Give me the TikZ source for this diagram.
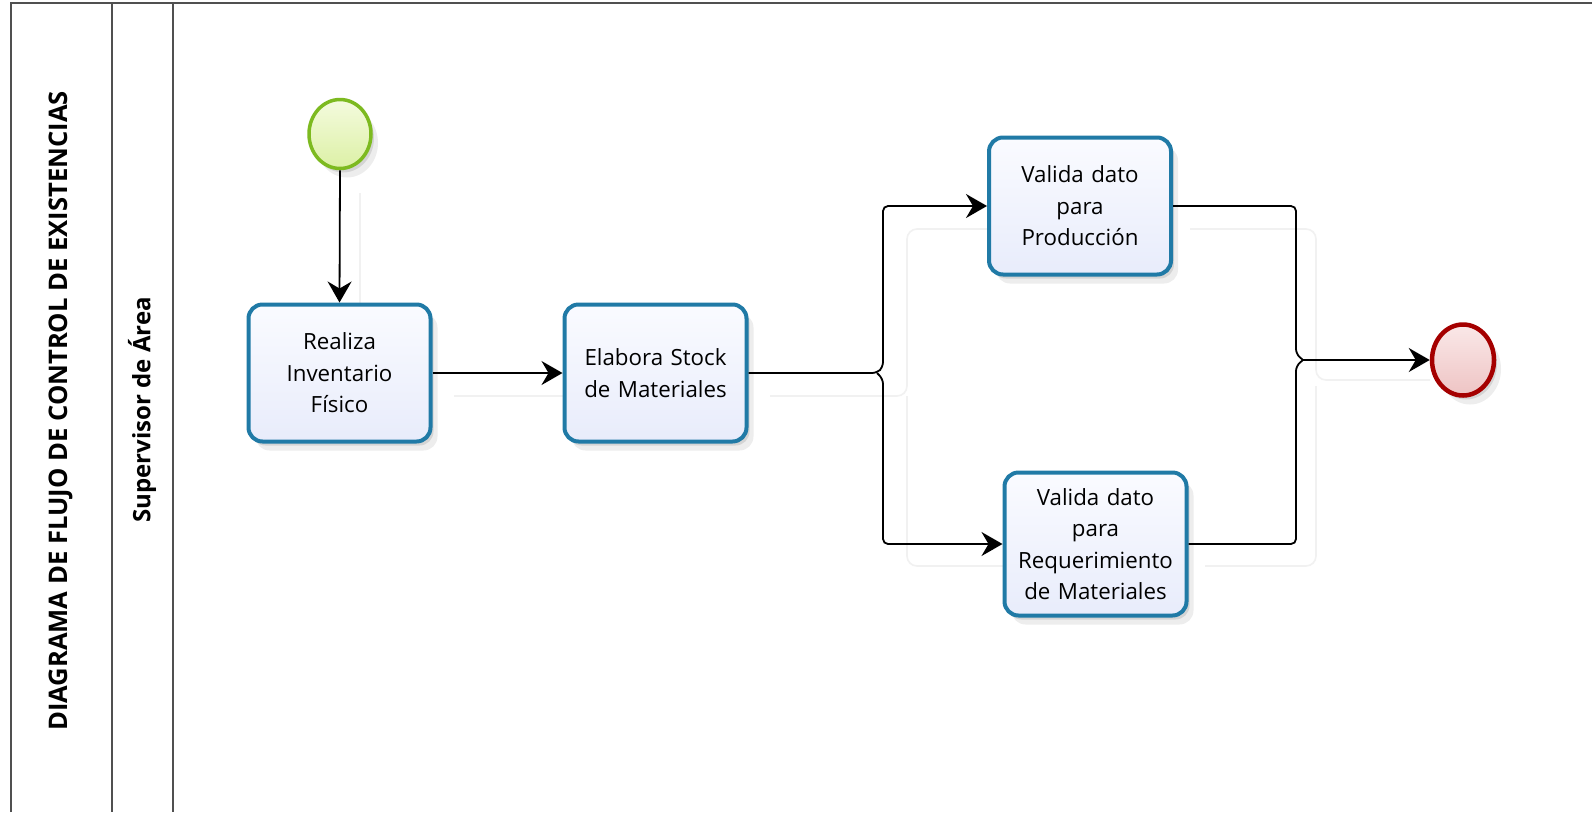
\documentclass[tikz,border=0pt]{standalone}
\usepackage{fontspec}
\setmainfont{Open Sans}
\usetikzlibrary{arrows.meta,shapes.geometric,shadows}

\definecolor{taskline}{RGB}{32,122,166}
\definecolor{taskfillA}{RGB}{250,251,255}
\definecolor{taskfillB}{RGB}{232,236,251}
\definecolor{startline}{RGB}{125,186,32}
\definecolor{startfillA}{RGB}{244,251,222}
\definecolor{startfillB}{RGB}{220,240,165}
\definecolor{endline}{RGB}{165,0,0}
\definecolor{endfillA}{RGB}{250,232,232}
\definecolor{endfillB}{RGB}{238,196,196}
\definecolor{framecol}{RGB}{80,80,80}
\definecolor{flowshade}{RGB}{241,241,241}

\begin{document}
\begin{tikzpicture}[x=1pt,y=-1pt,
  frame/.style={draw=framecol, line width=1.6pt},
  softshadow/.style={
    drop shadow={shadow xshift=3pt,shadow yshift=-4pt,opacity=0.10,fill=black},
    drop shadow={shadow xshift=7pt,shadow yshift=-9pt,opacity=0.07,fill=black}},
  task/.style={draw=taskline, line width=4pt, rounded corners=14pt,
    minimum width=182pt, minimum height=137pt, text width=178pt,
    align=center, inner sep=2pt, top color=taskfillA, bottom color=taskfillB,
    font=\fontsize{22.3}{31.5}\selectfont, text=black, softshadow},
  startev/.style={ellipse, draw=startline, line width=3.5pt, inner sep=0pt,
    minimum width=62pt, minimum height=69pt,
    top color=startfillA, bottom color=startfillB, softshadow},
  endev/.style={ellipse, draw=endline, line width=4.5pt, inner sep=0pt,
    minimum width=62pt, minimum height=71pt,
    top color=endfillA, bottom color=endfillB, softshadow},
  flow/.style={draw=black, line width=1.8pt, rounded corners=5pt},
  conn/.style={flow, -{Stealth[length=21pt,width=24pt,inset=7pt]}},
  flowshadow/.style={draw=flowshade, line width=1.6pt, rounded corners=10pt},
  lanelabel/.style={rotate=90, font=\bfseries, text=black}
]
\useasboundingbox (0,0) rectangle (1592,812);
\fill[white] (0,0) rectangle (1592,812);

% pool and lane borders
\draw[frame] (11,812) -- (11,3) -- (1592,3);
\draw[frame] (112,3) -- (112,812);
\draw[frame] (173,3) -- (173,812);

\node[lanelabel, font=\fontsize{25.6}{28}\selectfont\bfseries] (pool) at (61,411)
  {DIAGRAMA DE FLUJO DE CONTROL DE EXISTENCIAS};
\node[lanelabel, font=\fontsize{24}{26}\selectfont\bfseries] (lane) at (142,410)
  {Supervisor de Área};

% faint shadows of the sequence flows
\draw[flowshadow] (360,193) -- (360,303);
\draw[flowshadow] (454,396) -- (563,396);
\draw[flowshadow] (770,396) -- (907,396) -- (907,229) -- (1000,229);
\draw[flowshadow] (907,396) -- (907,566) -- (1010,566);
\draw[flowshadow] (1190,229) -- (1316,229) -- (1316,380) -- (1430,380);
\draw[flowshadow] (1205,566) -- (1316,566) -- (1316,386);

% events and tasks
\node[startev] (start) at (340,134) {};
\node[task] (t1) at (339.5,373) {Realiza\\Inventario\\Físico};
\node[task] (t2) at (655.5,373) {Elabora Stock\\de Materiales};
\node[task] (t3) at (1080,206) {Valida dato\\para\\Producción};
\node[task, minimum height=143pt] (t4) at (1095.5,544)
  {Valida dato\\para\\Requerimiento\\de Materiales};
\node[endev] (end) at (1463,360) {};

% split and merge points
\coordinate (fork) at (877,373);
\coordinate (forkv) at (883,373);
\coordinate (joinv) at (1296,360);
\coordinate (join) at (1303,360);

% sequence flows
\draw[conn] (start.south) -- (t1.north);
\draw[conn] (t1.east) -- (t2.west);
\draw[conn] (t2.east) -- (fork) -- ([yshift=6pt]forkv) -- (forkv |- t3.west) -- (t3.west);
\draw[conn] (fork) -- ([yshift=-6pt]forkv) -- (forkv |- t4.west) -- (t4.west);
\draw[flow] (t3.east) -- (joinv |- t3.east) -- ([yshift=6pt]joinv) -- (join);
\draw[flow] (t4.east) -- (joinv |- t4.east) -- ([yshift=-6pt]joinv) -- (join);
\draw[conn] (join) -- (end.west);
\end{tikzpicture}
\end{document}
